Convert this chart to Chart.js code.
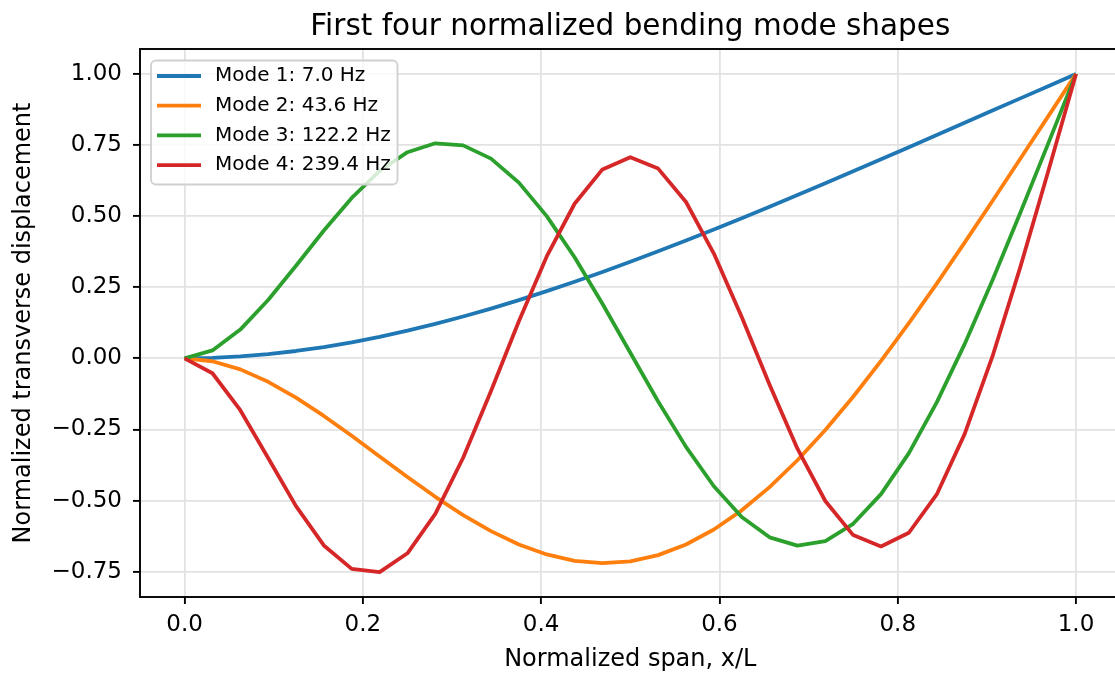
<!DOCTYPE html>
<html lang="en">
<head>
    <meta charset="UTF-8">
    <title>Bending Mode Shapes</title>
    <script src="https://cdn.jsdelivr.net/npm/chart.js"></script>
    <style>
        html, body { margin: 0; padding: 0; background: #fff; overflow: hidden; }
        #wrap { position: absolute; left: 0; top: 0; width: 1122px; height: 675px; }
    </style>
</head>
<body>
    <div id="wrap"><canvas id="modeChart"></canvas></div>
    <script>
        // span positions x/L (33 stations)
        const span = [0, 0.03125, 0.0625, 0.09375, 0.125, 0.15625, 0.1875, 0.21875, 0.25,
            0.28125, 0.3125, 0.34375, 0.375, 0.40625, 0.4375, 0.46875, 0.5,
            0.53125, 0.5625, 0.59375, 0.625, 0.65625, 0.6875, 0.71875, 0.75,
            0.78125, 0.8125, 0.84375, 0.875, 0.90625, 0.9375, 0.96875, 1];

        const mode1 = [0, 0.0017, 0.0067, 0.0148, 0.0259, 0.0398, 0.0565, 0.0757, 0.0973,
            0.1212, 0.1471, 0.1751, 0.2049, 0.2363, 0.2694, 0.3038, 0.3396,
            0.3765, 0.4144, 0.4532, 0.4929, 0.5333, 0.5743, 0.6158, 0.6577,
            0.7000, 0.7425, 0.7852, 0.8281, 0.8710, 0.9140, 0.9570, 1];
        const mode2 = [0, -0.0102, -0.0387, -0.0824, -0.1379, -0.2024, -0.2723, -0.3448, -0.4173,
            -0.4868, -0.5510, -0.6075, -0.6542, -0.6895, -0.7119, -0.7202, -0.7137,
            -0.6918, -0.6544, -0.6018, -0.5343, -0.4528, -0.3582, -0.2518, -0.1349,
            -0.0091, 0.1239, 0.2627, 0.4069, 0.5533, 0.7016, 0.8508, 1];
        const mode3 = [0, 0.0279, 0.1011, 0.2051, 0.3258, 0.4495, 0.5641, 0.6587, 0.7248,
            0.7561, 0.7489, 0.7021, 0.6178, 0.5001, 0.3553, 0.1919, 0.0197,
            -0.1515, -0.3112, -0.4496, -0.5579, -0.6292, -0.6585, -0.6429, -0.5817,
            -0.4772, -0.3331, -0.1550, 0.0498, 0.2745, 0.5117, 0.7550, 1];
        const mode4 = [0, -0.0523, -0.1822, -0.3502, -0.5194, -0.6577, -0.7402, -0.7514, -0.6853,
            -0.5467, -0.3494, -0.1147, 0.1304, 0.3585, 0.5435, 0.6643, 0.7071,
            0.6671, 0.5497, 0.3685, 0.1456, -0.0927, -0.3175, -0.5015, -0.6214,
            -0.6613, -0.6131, -0.4784, -0.2664, 0.0066, 0.3208, 0.6569, 1];

        const modeFreqs = [7.0, 43.6, 122.2, 239.4];
        const modeColors = ['#1f77b4', '#ff7f0e', '#2ca02c', '#d62728'];
        const xTicks = [0, 0.2, 0.4, 0.6, 0.8, 1.0];
        const yTicks = [-0.75, -0.5, -0.25, 0, 0.25, 0.5, 0.75, 1.0];

        const modes = [mode1, mode2, mode3, mode4];
        const FONT = 'DejaVu Sans';

        Chart.defaults.color = '#000';
        Chart.defaults.font.family = FONT;

        // box around plot area + legend in upper left, drawn like matplotlib
        const frameAndLegend = {
            id: 'frameAndLegend',
            afterDatasetsDraw(chart) {
                const ctx = chart.ctx;
                const a = chart.chartArea;
                ctx.save();
                ctx.strokeStyle = '#000';
                ctx.lineWidth = 1.9;
                ctx.strokeRect(a.left, a.top, a.right - a.left, a.bottom - a.top);

                const bx = a.left + 11, by = a.top + 11.5, bw = 246.5, bh = 124;
                ctx.beginPath();
                ctx.roundRect(bx, by, bw, bh, 5);
                ctx.fillStyle = 'rgba(255,255,255,0.8)';
                ctx.fill();
                ctx.strokeStyle = '#d0d0d0';
                ctx.lineWidth = 1.8;
                ctx.stroke();

                ctx.font = '20px "' + FONT + '"';
                ctx.textBaseline = 'middle';
                ctx.textAlign = 'left';
                chart.data.datasets.forEach((ds, i) => {
                    const ry = by + 15.5 + i * 29.7;
                    ctx.beginPath();
                    ctx.moveTo(bx + 6, ry);
                    ctx.lineTo(bx + 50, ry);
                    ctx.strokeStyle = ds.borderColor;
                    ctx.lineWidth = 3.8;
                    ctx.stroke();
                    ctx.fillStyle = '#000';
                    ctx.fillText(ds.label, bx + 64, ry);
                });
                ctx.restore();
            }
        };

        const ctx = document.getElementById('modeChart').getContext('2d');
        new Chart(ctx, {
            type: 'line',
            data: {
                datasets: modes.map((m, i) => ({
                    label: `Mode ${i + 1}: ${modeFreqs[i].toFixed(1)} Hz`,
                    data: span.map((x, j) => ({ x: x, y: m[j] })),
                    borderColor: modeColors[i],
                    backgroundColor: modeColors[i],
                    borderWidth: 3.8,
                    borderJoinStyle: 'round',
                    pointRadius: 0,
                    tension: 0,
                    fill: false,
                    order: modes.length - i
                }))
            },
            options: {
                responsive: true,
                maintainAspectRatio: false,
                devicePixelRatio: 1,
                animation: false,
                layout: { padding: { left: 0, right: 1.4, top: 0, bottom: 0 } },
                plugins: {
                    legend: { display: false },
                    tooltip: { enabled: false },
                    title: {
                        display: true,
                        fullSize: false,
                        text: 'First four normalized bending mode shapes',
                        color: '#000',
                        font: { size: 29.5, weight: 'normal', family: FONT },
                        padding: { top: 10, bottom: 3.6 }
                    }
                },
                scales: {
                    x: {
                        type: 'linear',
                        min: -0.05,
                        max: 1.05,
                        afterBuildTicks: (scale) => { scale.ticks = xTicks.map(v => ({ value: v })); },
                        afterFit: (scale) => { scale.height = 78; },
                        ticks: {
                            autoSkip: false,
                            maxRotation: 0,
                            padding: 7,
                            font: { size: 23 },
                            callback: (v) => Number(v).toFixed(1)
                        },
                        grid: {
                            color: '#e2e2e2',
                            lineWidth: 1.8,
                            tickColor: '#000',
                            tickWidth: 1.9,
                            tickLength: 7
                        },
                        border: { display: false },
                        title: {
                            display: true,
                            text: 'Normalized span, x/L',
                            font: { size: 24 },
                            padding: { top: 0, bottom: 1 }
                        }
                    },
                    y: {
                        min: -0.839,
                        max: 1.0876,
                        afterBuildTicks: (scale) => { scale.ticks = yTicks.map(v => ({ value: v })); },
                        afterFit: (scale) => { scale.width = 140; },
                        ticks: {
                            autoSkip: false,
                            padding: 11,
                            font: { size: 23 },
                            callback: (v) => Number(v).toFixed(2).replace('-', '\u2212')
                        },
                        grid: {
                            color: '#e2e2e2',
                            lineWidth: 1.8,
                            tickColor: '#000',
                            tickWidth: 1.9,
                            tickLength: 7
                        },
                        border: { display: false },
                        title: {
                            display: true,
                            text: 'Normalized transverse displacement',
                            font: { size: 24 },
                            padding: { top: 9.6, bottom: 0 }
                        }
                    }
                }
            },
            plugins: [frameAndLegend]
        });
    </script>
</body>
</html>
